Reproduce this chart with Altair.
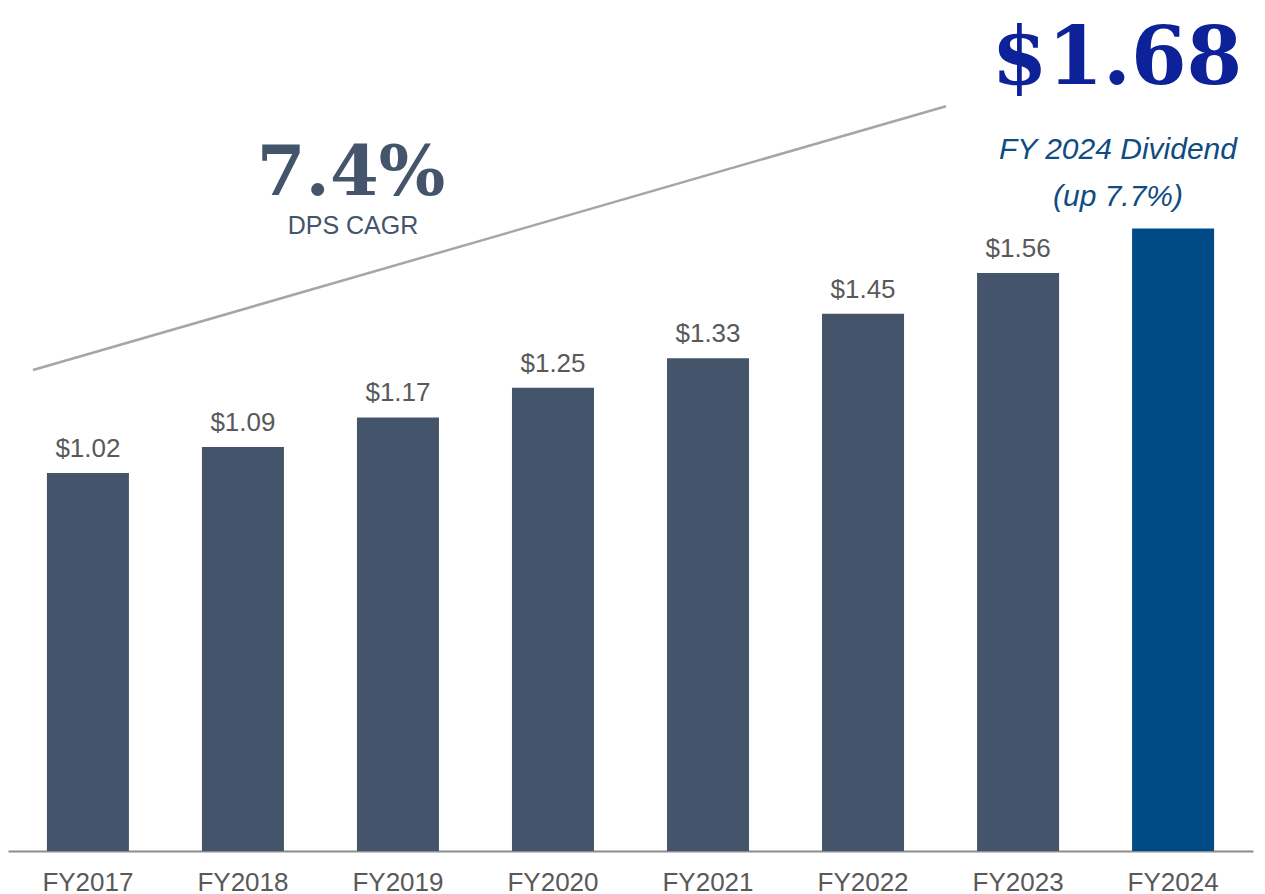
import altair as alt
import pandas as pd

years = ["FY2017", "FY2018", "FY2019", "FY2020", "FY2021", "FY2022", "FY2023", "FY2024"]
dps = [1.02, 1.09, 1.17, 1.25, 1.33, 1.45, 1.56, 1.68]
labels = ["$1.02", "$1.09", "$1.17", "$1.25", "$1.33", "$1.45", "$1.56", ""]
highlight = [False, False, False, False, False, False, False, True]

# trend line annotation (y in dividend units)
trend_y = [1.298, 2.01]

df = pd.DataFrame({"year": years, "dps": dps, "label": labels, "hl": highlight})

W, H = 1245, 843
ymax = 2.275

x = alt.X("year:N", sort=years, title=None,
          scale=alt.Scale(paddingInner=0.471, paddingOuter=0.251),
          axis=alt.Axis(labelAngle=0, ticks=False, domainColor="#8c8c8c", domainWidth=2,
                        labelFontSize=26, labelColor="#595959", labelFont="Liberation Sans",
                        labelPadding=18, grid=False))
y = alt.Y("dps:Q", scale=alt.Scale(domain=[0, ymax], nice=False), axis=None, title=None)

base = alt.Chart(df)

bars = base.mark_bar().encode(
    x=x, y=y,
    color=alt.Color("hl:N", scale=alt.Scale(domain=[False, True], range=["#44546A", "#004A87"]), legend=None),
)

text = base.mark_text(baseline="alphabetic", dy=-16, fontSize=26, font="Liberation Sans",
                      color="#595959").encode(x=x, y=y, text="label:N")

trend = alt.Chart(pd.DataFrame({"y1": [trend_y[0]], "y2": [trend_y[1]]})).mark_rule(
    color="#A6A6A6", strokeWidth=2.5).encode(
    x=alt.value(25), x2=alt.value(938),
    y=alt.Y("y1:Q", scale=alt.Scale(domain=[0, ymax], nice=False), axis=None),
    y2="y2:Q")

def note(txt, xp, yp, size, color, font, weight="normal", style="normal"):
    return alt.Chart(pd.DataFrame({"t": [txt]})).mark_text(
        fontSize=size, color=color, font=font, fontWeight=weight, fontStyle=style,
        align="center", baseline="alphabetic").encode(
        x=alt.value(xp), y=alt.value(yp), text="t:N")

n1 = note("$1.68", 1109, 76, 80, "#0D2298", "DejaVu Serif", weight="bold")
n2 = note("FY 2024 Dividend", 1110, 151, 30, "#0F4C81", "Liberation Sans", style="italic")
n3 = note("(up 7.7%)", 1110, 198, 30, "#0F4C81", "Liberation Sans", style="italic")
n4 = note("7.4%", 343, 187, 70, "#44546A", "DejaVu Serif", weight="bold")
n5 = note("DPS CAGR", 345, 226, 25, "#44546A", "Liberation Sans")

chart = alt.layer(bars, text, trend, n1, n2, n3, n4, n5).properties(
    width=W, height=H,
    autosize=alt.AutoSizeParams(type="none"),
    padding={"left": 0, "top": 0, "right": 4, "bottom": 44},
).configure_view(stroke=None)

chart.save("out.html", embed_options={"renderer": "svg", "actions": False})
